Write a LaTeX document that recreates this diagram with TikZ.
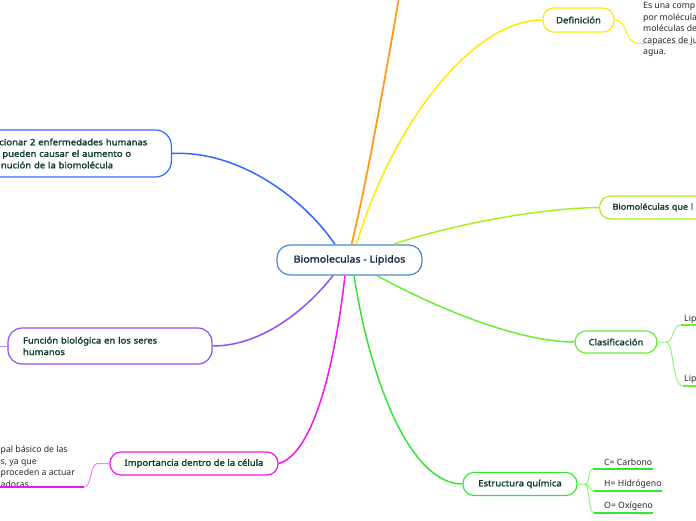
\documentclass[tikz,border=0pt]{standalone}
\usepackage{fontspec}
\setmainfont{Noto Sans}[BoldFont={Noto Sans}, BoldFeatures={FakeBold=1.8, FakeStretch=1.1}]
\definecolor{cblue}{RGB}{51,102,255}
\definecolor{corange}{RGB}{255,153,34}
\definecolor{cyellow}{RGB}{255,234,0}
\definecolor{cygreen}{RGB}{170,238,34}
\definecolor{cgreen}{RGB}{102,238,51}
\definecolor{cgreen2}{RGB}{51,230,51}
\definecolor{cgreenl}{RGB}{140,245,120}
\definecolor{cpurple}{RGB}{140,80,250}
\definecolor{cmag}{RGB}{240,20,240}
\definecolor{cmagl}{RGB}{255,120,255}
\definecolor{ccenter}{RGB}{70,140,205}
\definecolor{nodetxt}{RGB}{15,60,45}
\definecolor{centxt}{RGB}{25,40,75}
\definecolor{leaftxt}{RGB}{40,40,40}
\begin{document}
\begin{tikzpicture}[x=1pt,y=-1pt,
  box/.style={draw, rounded corners=11pt, line width=1.2pt, fill=white, inner sep=0pt,
    font=\fontsize{8.6}{11.5}\selectfont\bfseries, text=nodetxt},
  leaf/.style={inner sep=0pt, font=\fontsize{8.7}{11.5}\selectfont, text=leaftxt, anchor=base west, align=left},
  conn/.style={line width=1.5pt},
  sub/.style={line width=1pt},
  uline/.style={line width=1.4pt},
]
\useasboundingbox (0,0) rectangle (696,520);
\clip (0,0) rectangle (696,520);

% free ends
\coordinate (ortop) at (402,-20);
\coordinate (dA) at (639,43.5);
\coordinate (dB) at (700,43.5);
\coordinate (fl) at (-5,346);
\coordinate (mA) at (84,487);
\coordinate (mB) at (-5,487);
\coordinate (cJ) at (666,342);
\coordinate (cA) at (681,325);
\coordinate (cB) at (700,325);
\coordinate (cC) at (683,386);
\coordinate (cD) at (700,386);
\coordinate (eJ) at (585,484);
\coordinate (eA) at (593,469);
\coordinate (eB) at (653,469);
\coordinate (eC) at (594,491);
\coordinate (eD) at (662,491);
\coordinate (eE) at (594,513);
\coordinate (eF) at (653,513);

% nodes
\node[box, draw=ccenter, minimum width=145, minimum height=30, rounded corners=13pt,
  font=\fontsize{9.7}{12}\selectfont\bfseries, text=centxt] (c) at (349.5,260) {Biomoleculas - Lipidos};
\node[box, draw=cyellow, minimum width=71, minimum height=24] (def) at (578.5,20) {Definición};
\node[box, draw=cygreen, anchor=west, minimum height=23, text width=130, inner xsep=13pt, align=left,
  font=\fontsize{8.2}{11.5}\selectfont\bfseries] (bio) at (599,207.5) {Biomoléculas que l};
\node[box, draw=cgreen, minimum width=82, minimum height=22] (cla) at (616,342) {Clasificación};
\node[box, draw=cgreen2, minimum width=114, minimum height=23] (est) at (520,484) {Estructura química};
\node[box, draw=cmag, minimum width=168, minimum height=23] (imp) at (194,463.5) {Importancia dentro de la célula};
\node[box, draw=cpurple, rounded corners=14pt, minimum height=36, text width=174, inner xsep=15pt, align=left] (fun) at (110,346) {Función biológica en los seres\\humanos};
\node[box, draw=cblue, rounded corners=16pt, anchor=east, minimum height=47, text width=158, inner xsep=14pt, align=left] (enf) at (172,153.5) {cionar 2 enfermedades humanas\\\hspace*{3pt}pueden causar el aumento o\\\hspace*{1.5pt}nución de la biomolécula};

% leaves (base = baseline of last line)
\node[leaf] (defT) at (643,54.5) {Es una comp\\por molécula\\moléculas de\\capaces de ju\\agua.};
\node[leaf] (impT) at (0.5,487) {pal básico de las\\s, ya que\\proceden a actuar\\adoras};
\node[leaf] (lip1) at (684,321) {Lip};
\node[leaf] (lip2) at (684,381) {Lip};
\node[leaf] (carb) at (604,465.5) {C= Carbono};
\node[leaf] (hidr) at (604,486.5) {H= Hidrógeno};
\node[leaf] (oxig) at (604,508.5) {O= Oxígeno};

% main connectors
\draw[conn, cblue] (enf.east) .. controls (240,150) and (305,200) .. ([xshift=-14.5pt]c.north);
\draw[conn, corange, line width=1.8pt] ([xshift=2pt]c.north) .. controls (365,190) and (385,80) .. (ortop);
\draw[conn, cyellow] ([xshift=7pt]c.north) .. controls (390,130) and (470,20) .. (def.west);
\draw[conn, cygreen] ([xshift=43.5pt]c.north) .. controls (450,225) and (540,208) .. (bio.west);
\draw[conn, cpurple] ([xshift=-16.5pt]c.south) .. controls (310,305) and (265,346) .. (fun.east);
\draw[conn, cmag] (imp.east) .. controls (310,455) and (333,380) .. ([xshift=-4.5pt]c.south);
\draw[conn, cgreen2] ([xshift=4.5pt]c.south) .. controls (370,380) and (410,484) .. (est.west);
\draw[conn, cgreen] ([xshift=27.5pt]c.south) .. controls (440,310) and (520,342) .. (cla.west);

% sub connectors
\draw[sub, cyellow] (def.east) .. controls (628,20) and (624,43.5) .. (dA);
\draw[uline, cyellow] (dA) -- (dB);
\draw[sub, cpurple!70] (fl) -- (fun.west);
\draw[sub, cmagl] (imp.west) -- ++(-12,0) .. controls (90,463.5) and (92,487) .. (mA);
\draw[uline, cmag] (mA) -- (mB);
\draw[sub, cgreenl] (cla.east) -- (cJ) .. controls (674,342) and (672,325) .. (cA);
\draw[sub, cgreenl] (cJ) .. controls (674,342) and (672,386) .. (cC);
\draw[uline, cgreen] (cA) -- (cB);
\draw[uline, cgreen] (cC) -- (cD);
\draw[sub, cgreenl] (est.east) -- (eJ) .. controls (590,484) and (588,469) .. (eA);
\draw[sub, cgreenl] (eJ) .. controls (590,484) and (589,491) .. (eC);
\draw[sub, cgreenl] (eJ) .. controls (590,484) and (588,513) .. (eE);
\draw[uline, cgreen2] (eA) -- (eB);
\draw[uline, cgreen2] (eC) -- (eD);
\draw[uline, cgreen2] (eE) -- (eF);
\end{tikzpicture}
\end{document}
